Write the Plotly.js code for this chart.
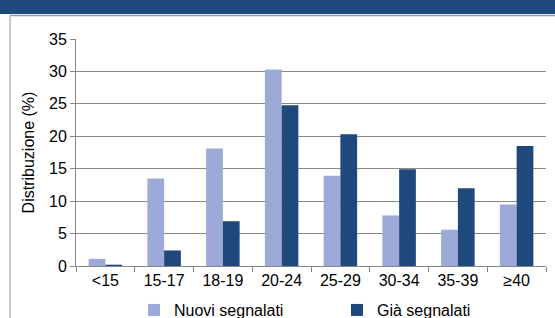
<!DOCTYPE html>
<html>
<head>
<meta charset="utf-8">
<script src="https://cdn.plot.ly/plotly-3.0.1.min.js"></script>
<style>html,body{margin:0;padding:0;background:#fff;}#chart{width:555px;height:318px;}</style>
</head>
<body>
<div id="chart"></div>
<script>
const categories = ["<15", "15-17", "18-19", "20-24", "25-29", "30-34", "35-39", "≥40"];
const nuovi = [1.1, 13.5, 18.1, 30.3, 13.9, 7.8, 5.6, 9.5];
const gia = [0.2, 2.4, 6.9, 24.8, 20.3, 14.9, 12.0, 18.5];
const seriesNames = ["Nuovi segnalati", "Già segnalati"];
const yTitle = "Distribuzione (%)";

const font = {family: "Liberation Sans, Arial, sans-serif", size: 16, color: "#000"};
const traces = [
  {type: "bar", name: seriesNames[0], x: categories, y: nuovi, marker: {color: "#9DAAD8"}},
  {type: "bar", name: seriesNames[1], x: categories, y: gia, marker: {color: "#1F497D"}}
];
const layout = {
  width: 555, height: 318,
  margin: {l: 76, r: 9, t: 39, b: 52},
  paper_bgcolor: "#fff", plot_bgcolor: "#fff",
  font: font,
  barmode: "group", bargap: 0.43, bargroupgap: 0,
  showlegend: true,
  legend: {orientation: "h", xref: "paper", x: 0.1234, xanchor: "left",
           yref: "container", y: 0.025, yanchor: "middle",
           font: font, entrywidth: 158, entrywidthmode: "pixels", itemwidth: 30,
           bgcolor: "rgba(0,0,0,0)"},
  xaxis: {type: "category", showgrid: false, showline: true, linecolor: "#888", linewidth: 1,
          ticks: "outside", tickson: "boundaries", ticklen: 5, tickcolor: "#888",
          tickfont: font, fixedrange: true, automargin: false},
  yaxis: {range: [0, 35], dtick: 5, showgrid: true, gridcolor: "#888", gridwidth: 1,
          showline: true, linecolor: "#888", linewidth: 1, ticks: "outside", ticklen: 5,
          tickcolor: "#888", tickfont: font, zeroline: false, automargin: false,
          title: {text: yTitle, font: font, standoff: 10}},
  shapes: [
    {type: "rect", xref: "paper", yref: "paper", x0: -0.2, x1: 1.1, y0: 1.1101, y1: 1.2,
     fillcolor: "#1F497D", line: {width: 0}, layer: "above"},
    {type: "line", xref: "paper", yref: "paper", x0: -0.1404, x1: 1.1, y0: 1.1035, y1: 1.1035,
     line: {color: "#999", width: 1.5}},
    {type: "line", xref: "paper", yref: "paper", x0: -0.1404, x1: -0.1404, y0: 1.1035, y1: -0.25,
     line: {color: "#aaa", width: 1.2}}
  ]
};
Plotly.newPlot("chart", traces, layout, {displayModeBar: false, staticPlot: true});
</script>
</body>
</html>
